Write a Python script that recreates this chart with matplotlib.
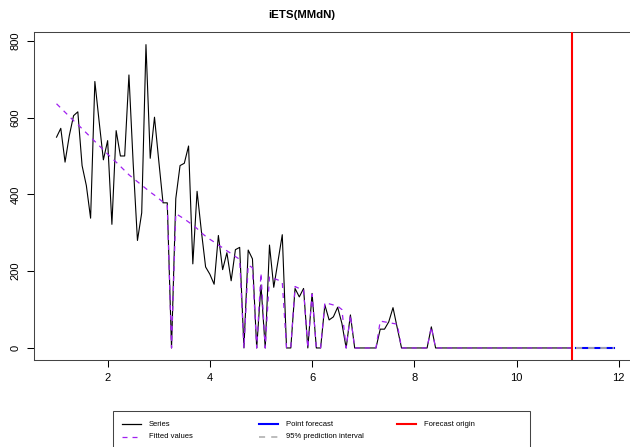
import matplotlib
matplotlib.use("Agg")
import matplotlib.pyplot as plt
import numpy as np
from matplotlib.lines import Line2D
from matplotlib.patches import Rectangle

plt.rcParams["font.family"] = ["Liberation Sans", "DejaVu Sans"]

# monthly series, starting at period 1
START = 1.0
FREQ = 12

series = [
    549, 572, 484, 553, 605, 615, 475, 423, 338, 694,
    590, 490, 540, 322, 566, 500, 500, 711, 480, 280,
    352, 790, 494, 601, 488, 378, 378, 0, 389, 475,
    481, 526, 219, 408, 305, 211, 192, 166, 293, 204,
    248, 175, 256, 262, 0, 255, 232, 0, 164, 0,
    268, 158, 226, 295, 0, 0, 155, 133, 155, 0,
    142, 0, 0, 112, 73, 81, 106, 64, 0, 86,
    0, 0, 0, 0, 0, 0, 49, 49, 68, 105,
    52, 0, 0, 0, 0, 0, 0, 0, 55, 0,
    0, 0, 0, 0, 0, 0, 0, 0, 0, 0,
    0, 0, 0, 0, 0, 0, 0, 0, 0, 0,
    0, 0, 0, 0, 0, 0, 0, 0, 0, 0,
    0, 0,
]

fitted = [
    636, 625, 614, 603, 592, 582, 571, 560, 549, 538,
    527, 516, 505, 494, 484, 473, 462, 451, 442, 433,
    424, 415, 406, 398, 389, 380, 371, 0, 350, 343,
    336, 328, 320, 311, 300, 291, 283, 276, 268, 261,
    253, 246, 238, 231, 0, 216, 209, 0, 195, 0,
    186, 181, 177, 172, 0, 0, 160, 155, 151, 0,
    140, 0, 0, 118, 115, 112, 109, 100, 0, 86,
    0, 0, 0, 0, 0, 0, 70, 68, 66, 64,
    62, 0, 0, 0, 0, 0, 0, 0, 55, 0,
    0, 0, 0, 0, 0, 0, 0, 0, 0, 0,
    0, 0, 0, 0, 0, 0, 0, 0, 0, 0,
    0, 0, 0, 0, 0, 0, 0, 0, 0, 0,
    0, 0,
]

point_fc = [0, 0, 0, 0, 0, 0, 0, 0, 0, 0]
lower_fc = [0, 0, 0, 0, 0, 0, 0, 0, 0, 0]
upper_fc = [0, 0, 0, 0, 0, 0, 0, 0, 0, 0]

n = len(series)
t_in = START + np.arange(n) / FREQ
t_fc = START + np.arange(n, n + len(point_fc)) / FREQ
origin = t_in[-1]

fig = plt.figure(figsize=(6.3, 4.47), dpi=100)
ax = fig.add_axes([0.0543, 0.1944, 0.9565, 0.7329])

ax.plot(t_in, series, color="black", lw=0.8, zorder=3)
ax.plot(t_in, fitted, color="#A020F0", lw=0.9, linestyle=(0, (4, 4)), zorder=4)
ax.plot(t_fc, point_fc, color="#0000FF", lw=1.5, zorder=3)
ax.plot(t_fc, lower_fc, color="#A9A9A9", lw=1.1, linestyle=(0, (4, 4)), zorder=5)
ax.plot(t_fc, upper_fc, color="#A9A9A9", lw=1.1, linestyle=(0, (4, 4)), zorder=5)
ax.axvline(origin, color="#FF0000", lw=1.5, zorder=6)

# R-style limits: 4% padding on each side
xmin, xmax = t_in[0], t_fc[-1]
ymin = min(min(series), min(fitted), min(lower_fc))
ymax = max(max(series), max(fitted), max(upper_fc))
dx, dy = (xmax - xmin) * 0.04, (ymax - ymin) * 0.04
ax.set_xlim(xmin - dx, xmax + dx)
ax.set_ylim(ymin - dy, ymax + dy)

ax.set_xticks([2, 4, 6, 8, 10, 12])
ax.set_yticks([0, 200, 400, 600, 800])
ax.tick_params(axis="both", direction="out", length=5, width=0.75,
               labelsize=8, color="black")
ax.tick_params(axis="x", pad=4)
ax.tick_params(axis="y", pad=5)
for lab in ax.get_yticklabels():
    lab.set_rotation(90)
    lab.set_va("center")
for sp in ax.spines.values():
    sp.set_color("#444444")
    sp.set_linewidth(0.75)

fig.text(302 / 630, 1 - 15 / 447, "iETS(MMdN)", ha="center", va="center",
         fontsize=8.2, fontweight="bold")

# legend box below the plot
W, H = 630, 447
fig.add_artist(Rectangle((113.3 / W, 1 - 460 / H), (530 - 113.3) / W, (460 - 410.7) / H,
                         transform=fig.transFigure, fill=False,
                         edgecolor="#444444", lw=0.75))
entries = [
    (121.7, 424.3, "Series", dict(color="black", lw=0.9)),
    (121.7, 436.7, "Fitted values", dict(color="#A020F0", lw=0.9, linestyle=(0, (4, 4)))),
    (259.3, 424.3, "Point forecast", dict(color="#0000FF", lw=1.5)),
    (259.3, 436.7, "95% prediction interval", dict(color="#A9A9A9", lw=1.1, linestyle=(0, (4, 4)))),
    (396.7, 424.3, "Forecast origin", dict(color="#FF0000", lw=1.5)),
]
for x0, y0, label, style in entries:
    fig.add_artist(Line2D([x0 / W, (x0 + 19) / W], [1 - y0 / H, 1 - y0 / H],
                          transform=fig.transFigure, **style))
    fig.text((x0 + 27) / W, 1 - y0 / H, label, ha="left", va="center", fontsize=5.5)

fig.savefig("out.png", dpi=100)
